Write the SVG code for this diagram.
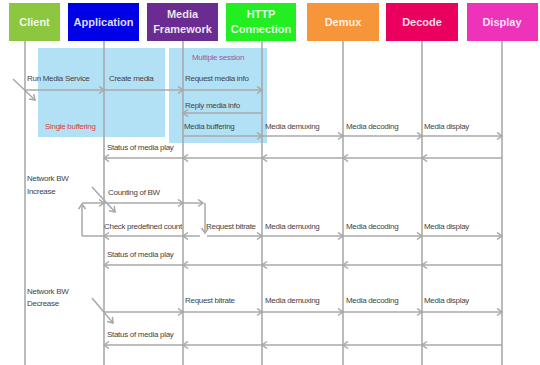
<svg xmlns="http://www.w3.org/2000/svg" width="540" height="365" viewBox="0 0 540 365">
<style>
.hdr{font-family:"Liberation Sans",Arial,sans-serif;font-weight:bold;font-size:11px;fill:#ffffff;fill-opacity:0.88;text-anchor:middle}
.life{stroke:#a4a4a4;stroke-width:1.5;fill:none}
.msg{stroke:#a8a8a8;stroke-width:1.5;fill:none;marker-end:url(#ah)}
.ln{stroke:#a8a8a8;stroke-width:1.5;fill:none}
.t{font-family:"Liberation Sans",Arial,sans-serif;font-size:8px;fill:#444;letter-spacing:-0.3px}
.zone{fill:#b2e1f5}
</style>
<defs>
<marker id="ah" markerUnits="userSpaceOnUse" markerWidth="10" markerHeight="10" refX="6" refY="4" orient="auto">
<path d="M1,0.5 L6,4 L1,7.5" fill="none" stroke="#a8a8a8" stroke-width="1.5"/>
</marker>
</defs>
<rect width="540" height="365" fill="#ffffff"/>
<g id="zones">
<rect class="zone" x="38" y="48" width="127" height="89"/>
<rect class="zone" x="169" y="48" width="98" height="95"/>
<text class="t" x="192" y="60" style="fill:#9a5aa0">Multiple session</text>
<text class="t" x="45" y="129" style="fill:#e03a3a">Single buffering</text>
</g>
<g id="client">
<rect x="9" y="3" width="51" height="38" fill="#8dc63f"/>
<text class="hdr" x="34.5" y="26">Client</text>
<line class="life" x1="25" y1="41" x2="25" y2="365"/>
</g>
<g id="application">
<rect x="68" y="3" width="71" height="38" fill="#0000e6"/>
<text class="hdr" x="103.5" y="26">Application</text>
<line class="life" x1="104" y1="41" x2="104" y2="365"/>
</g>
<g id="media-framework">
<rect x="147" y="3" width="71" height="38" fill="#6a2c91"/>
<text class="hdr" x="182.5" y="18">Media</text>
<text class="hdr" x="182.5" y="33">Framework</text>
<line class="life" x1="183" y1="41" x2="183" y2="365"/>
</g>
<g id="http-connection">
<rect x="226" y="3" width="70" height="38" fill="#22ee22"/>
<text class="hdr" x="261" y="18">HTTP</text>
<text class="hdr" x="261" y="33">Connection</text>
<line class="life" x1="262" y1="41" x2="262" y2="365"/>
</g>
<g id="demux">
<rect x="307" y="3" width="72" height="38" fill="#f7953b"/>
<text class="hdr" x="343" y="26">Demux</text>
<line class="life" x1="343" y1="41" x2="343" y2="365"/>
</g>
<g id="decode">
<rect x="386" y="3" width="72" height="38" fill="#ea005e"/>
<text class="hdr" x="422" y="26">Decode</text>
<line class="life" x1="422" y1="41" x2="422" y2="365"/>
</g>
<g id="display">
<rect x="467" y="3" width="71" height="38" fill="#ee33bb"/>
<text class="hdr" x="502" y="26">Display</text>
<line class="life" x1="502" y1="41" x2="502" y2="365"/>
</g>
<g id="connectors">
<line class="msg" x1="13" y1="79" x2="35" y2="100"/>
<line class="msg" x1="25" y1="90" x2="104" y2="90"/>
<line class="msg" x1="104" y1="90" x2="183" y2="90"/>
<line class="msg" x1="183" y1="90" x2="262" y2="90"/>
<line class="msg" x1="262" y1="113" x2="183" y2="113"/>
<line class="msg" x1="183" y1="136" x2="262" y2="136"/>
<line class="msg" x1="262" y1="136" x2="343" y2="136"/>
<line class="msg" x1="343" y1="136" x2="422" y2="136"/>
<line class="msg" x1="422" y1="136" x2="502" y2="136"/>
<line class="msg" x1="502" y1="158" x2="422" y2="158"/>
<line class="msg" x1="422" y1="158" x2="343" y2="158"/>
<line class="msg" x1="343" y1="158" x2="262" y2="158"/>
<line class="msg" x1="262" y1="158" x2="183" y2="158"/>
<line class="msg" x1="183" y1="158" x2="104" y2="158"/>
<line class="msg" x1="92" y1="187" x2="115" y2="212"/>
<line class="msg" x1="82" y1="236" x2="82" y2="204"/>
<line class="msg" x1="82" y1="203" x2="104" y2="203"/>
<line class="msg" x1="104" y1="203" x2="183" y2="203"/>
<line class="msg" x1="183" y1="203" x2="203" y2="203"/>
<line class="msg" x1="205" y1="203" x2="205" y2="233"/>
<line class="msg" x1="200" y1="236" x2="183" y2="236"/>
<line class="msg" x1="183" y1="236" x2="104" y2="236"/>
<line class="ln" x1="104" y1="236" x2="82" y2="236"/>
<line class="msg" x1="207" y1="236" x2="262" y2="236"/>
<line class="msg" x1="262" y1="236" x2="343" y2="236"/>
<line class="msg" x1="343" y1="236" x2="422" y2="236"/>
<line class="msg" x1="422" y1="236" x2="502" y2="236"/>
<line class="msg" x1="502" y1="265" x2="422" y2="265"/>
<line class="msg" x1="422" y1="265" x2="343" y2="265"/>
<line class="msg" x1="343" y1="265" x2="262" y2="265"/>
<line class="msg" x1="262" y1="265" x2="183" y2="265"/>
<line class="msg" x1="183" y1="265" x2="104" y2="265"/>
<line class="msg" x1="92" y1="298" x2="113" y2="323"/>
<line class="msg" x1="104" y1="312" x2="183" y2="312"/>
<line class="msg" x1="183" y1="312" x2="262" y2="312"/>
<line class="msg" x1="262" y1="312" x2="343" y2="312"/>
<line class="msg" x1="343" y1="312" x2="422" y2="312"/>
<line class="msg" x1="422" y1="312" x2="502" y2="312"/>
<line class="msg" x1="502" y1="345" x2="422" y2="345"/>
<line class="msg" x1="422" y1="345" x2="343" y2="345"/>
<line class="msg" x1="343" y1="345" x2="262" y2="345"/>
<line class="msg" x1="262" y1="345" x2="183" y2="345"/>
<line class="msg" x1="183" y1="345" x2="104" y2="345"/>
</g>
<g id="labels">
<text class="t" x="27" y="81">Run Media Service</text>
<text class="t" x="109" y="81">Create media</text>
<text class="t" x="185" y="81">Request media info</text>
<text class="t" x="185" y="108">Reply media info</text>
<text class="t" x="184" y="129">Media buffering</text>
<text class="t" x="265" y="129">Media demuxing</text>
<text class="t" x="346" y="129">Media decoding</text>
<text class="t" x="424" y="129">Media display</text>
<text class="t" x="107" y="150">Status of media play</text>
<text class="t" x="27" y="181">Network BW</text>
<text class="t" x="27" y="194">Increase</text>
<text class="t" x="108" y="195">Counting of BW</text>
<text class="t" x="104" y="229">Check predefined count</text>
<text class="t" x="206" y="229">Request bitrate</text>
<text class="t" x="265" y="229">Media demuxing</text>
<text class="t" x="346" y="229">Media decoding</text>
<text class="t" x="424" y="229">Media display</text>
<text class="t" x="107" y="257">Status of media play</text>
<text class="t" x="27" y="294">Network BW</text>
<text class="t" x="27" y="306">Decrease</text>
<text class="t" x="185" y="303">Request bitrate</text>
<text class="t" x="265" y="303">Media demuxing</text>
<text class="t" x="346" y="303">Media decoding</text>
<text class="t" x="424" y="303">Media display</text>
<text class="t" x="107" y="337">Status of media play</text>
</g>
</svg>
